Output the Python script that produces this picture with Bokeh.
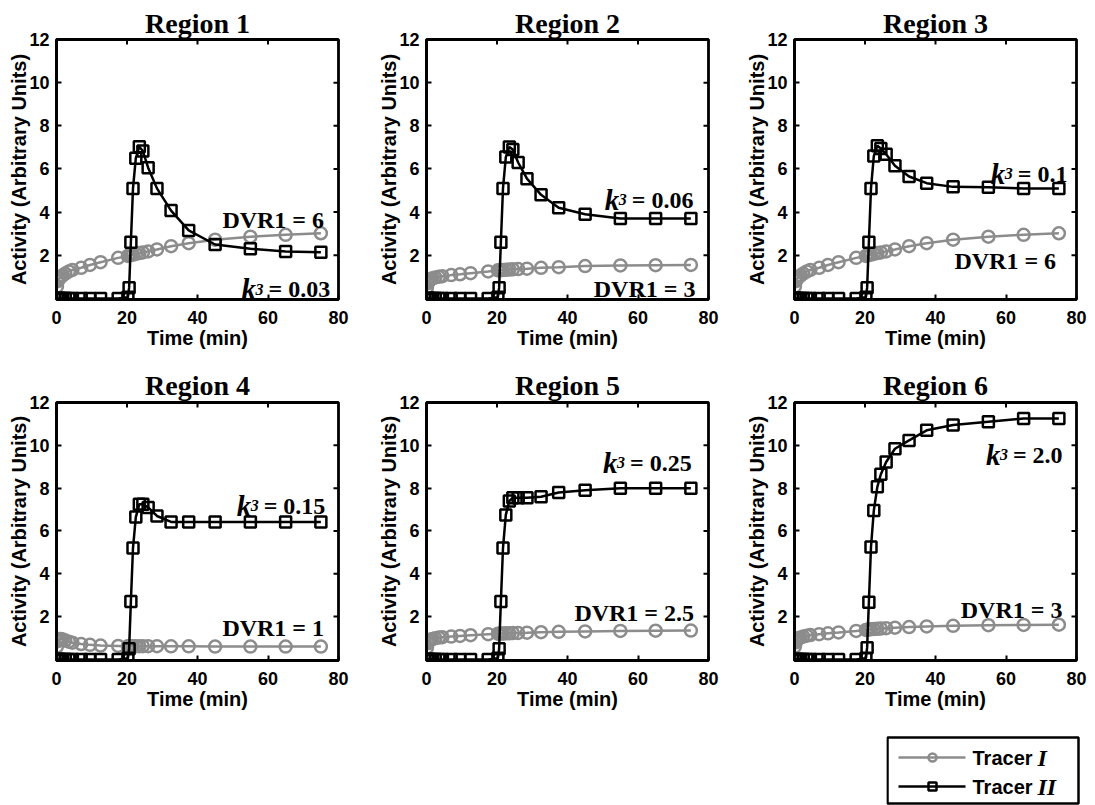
import math
from bokeh.plotting import figure
from bokeh.models import FixedTicker, Range1d, Spacer
from bokeh.layouts import row, column
from bokeh.embed import file_html
from bokeh.resources import INLINE
from bokeh.core.properties import value

# ---------------- data ----------------
time_min = [0.125, 0.375, 0.625, 0.875, 1.25, 1.75, 2.5, 3.5, 4.5, 7.0, 9.5, 12.5, 17.5,
            20.25, 20.6, 21.1, 21.7, 22.5, 23.5, 24.5, 26.0, 28.5, 32.5, 37.5, 45.0, 55.0, 65.0, 75.0]

region_names = ["Region 1", "Region 2", "Region 3", "Region 4", "Region 5", "Region 6"]

tracer1_r1 = [0.55, 0.8, 0.9, 0.95, 1.0, 1.07, 1.15, 1.25, 1.32, 1.42, 1.55, 1.68, 1.88,
              1.97, 1.99, 2.01, 2.03, 2.06, 2.1, 2.13, 2.18, 2.27, 2.42, 2.56, 2.72, 2.86, 2.95, 3.02]
tracer1_r2 = [0.5, 0.7, 0.8, 0.85, 0.9, 0.93, 0.97, 1.0, 1.03, 1.08, 1.12, 1.17, 1.25,
              1.3, 1.3, 1.31, 1.32, 1.33, 1.34, 1.35, 1.36, 1.38, 1.42, 1.45, 1.5, 1.53, 1.54, 1.55]
tracer1_r3 = [0.55, 0.8, 0.9, 0.95, 1.0, 1.07, 1.15, 1.25, 1.32, 1.42, 1.55, 1.68, 1.88,
              1.97, 1.99, 2.01, 2.03, 2.06, 2.1, 2.13, 2.18, 2.27, 2.42, 2.56, 2.72, 2.86, 2.95, 3.02]
tracer1_r4 = [0.6, 0.85, 0.93, 0.96, 0.95, 0.93, 0.88, 0.83, 0.78, 0.72, 0.68, 0.65, 0.63,
              0.62, 0.62, 0.62, 0.62, 0.62, 0.62, 0.62, 0.62, 0.62, 0.61, 0.61, 0.6, 0.6, 0.6, 0.6]
tracer1_r5 = [0.55, 0.75, 0.85, 0.9, 0.93, 0.96, 0.99, 1.02, 1.04, 1.07, 1.1, 1.13, 1.18,
              1.2, 1.2, 1.21, 1.21, 1.22, 1.22, 1.23, 1.24, 1.25, 1.27, 1.29, 1.31, 1.33, 1.34, 1.35]
tracer1_r6 = [0.6, 0.8, 0.9, 0.95, 1.0, 1.03, 1.07, 1.11, 1.14, 1.18, 1.22, 1.26, 1.33,
              1.38, 1.39, 1.4, 1.41, 1.42, 1.43, 1.44, 1.46, 1.48, 1.51, 1.54, 1.57, 1.6, 1.61, 1.62]

tracer2_r1 = [0, 0, 0, 0, 0, 0, 0, 0, 0, 0, 0, 0, 0,
              0.05, 0.5, 2.6, 5.1, 6.5, 7.03, 6.83, 6.06, 5.1, 4.07, 3.15, 2.5, 2.3, 2.18, 2.14]
tracer2_r2 = [0, 0, 0, 0, 0, 0, 0, 0, 0, 0, 0, 0, 0,
              0.05, 0.5, 2.6, 5.1, 6.55, 7.02, 6.9, 6.3, 5.55, 4.8, 4.2, 3.9, 3.7, 3.7, 3.7]
tracer2_r3 = [0, 0, 0, 0, 0, 0, 0, 0, 0, 0, 0, 0, 0,
              0.05, 0.5, 2.6, 5.1, 6.6, 7.08, 6.95, 6.68, 6.15, 5.65, 5.34, 5.17, 5.15, 5.1, 5.1]
tracer2_r4 = [0, 0, 0, 0, 0, 0, 0, 0, 0, 0, 0, 0, 0,
              0.05, 0.5, 2.7, 5.2, 6.65, 7.25, 7.25, 7.1, 6.7, 6.42, 6.42, 6.42, 6.42, 6.42, 6.42]
tracer2_r5 = [0, 0, 0, 0, 0, 0, 0, 0, 0, 0, 0, 0, 0,
              0.05, 0.5, 2.7, 5.2, 6.75, 7.4, 7.55, 7.55, 7.55, 7.6, 7.8, 7.9, 8.0, 8.0, 8.0]
tracer2_r6 = [0, 0, 0, 0, 0, 0, 0, 0, 0, 0, 0, 0, 0,
              0.05, 0.55, 2.67, 5.25, 6.95, 8.06, 8.65, 9.22, 9.84, 10.23, 10.7, 10.95, 11.1, 11.25, 11.25]

dvr_labels = ["DVR1 = 6", "DVR1 = 3", "DVR1 = 6", "DVR1 = 1", "DVR1 = 2.5", "DVR1 = 3"]
k3_labels = ["0.03", "0.06", "0.1", "0.15", "0.25", "2.0"]

x_ticks = [0, 20, 40, 60, 80]
y_ticks = [2, 4, 6, 8, 10, 12]
legend_labels = ["Tracer ", "Tracer "]
legend_numerals = ["I", "II"]

tracer1_all = [tracer1_r1, tracer1_r2, tracer1_r3, tracer1_r4, tracer1_r5, tracer1_r6]
tracer2_all = [tracer2_r1, tracer2_r2, tracer2_r3, tracer2_r4, tracer2_r5, tracer2_r6]

# ---------------- layout / styling ----------------
dvr_pos = [(75.9, 3.65), (76.3, 0.42), (74.2, 1.72), (75.9, 1.47), (75.9, 2.16), (76.0, 2.31)]
k3_pos = [(52.5, 0.42), (50.6, 4.57), (55.7, 5.77), (51.1, 7.18), (50.1, 9.18), (54.3, 9.57)]

GRAY = "#8c8c8c"
SANS = "Liberation Sans"
SERIF = "Liberation Serif"

cols = [dict(w=373, bl=56, br=35), dict(w=368, bl=53, br=33), dict(w=354, bl=53, br=19)]
rows_cfg = [dict(h=365, bt=39, bb=66, title_standoff=2),
            dict(h=360, bt=36, bb=65, title_standoff=4)]


def make_panel(i):
    r, c = divmod(i, 3)
    cc, rc = cols[c], rows_cfg[r]
    p = figure(width=cc["w"], height=rc["h"], x_range=Range1d(0, 80), y_range=Range1d(-0.05, 12),
               output_backend="svg", toolbar_location=None,
               min_border_left=cc["bl"], min_border_right=cc["br"],
               min_border_top=rc["bt"], min_border_bottom=rc["bb"],
               title=region_names[i])
    p.title.text_font = SERIF
    p.title.text_font_style = "bold"
    p.title.text_font_size = "28px"
    p.title.text_color = "black"
    p.title.align = "center"
    p.title.standoff = rc["title_standoff"]
    p.xgrid.visible = False
    p.ygrid.visible = False
    p.outline_line_color = "black"
    p.outline_line_width = 2.8
    p.outline_line_alpha = 1.0
    p.background_fill_color = "white"
    p.border_fill_color = "white"

    for ax in (p.xaxis[0], p.yaxis[0]):
        ax.axis_line_color = "black"
        ax.axis_line_width = 2.8
        ax.major_tick_in = 5
        ax.major_tick_out = 0
        ax.minor_tick_line_color = None
        ax.major_tick_line_width = 2
        ax.major_tick_line_color = "black"
        ax.major_label_text_font = SANS
        ax.major_label_text_font_style = "bold"
        ax.major_label_text_font_size = "18px"
        ax.major_label_text_color = "black"
        ax.axis_label_text_font = SANS
        ax.axis_label_text_font_style = "bold"
        ax.axis_label_text_font_size = "20px"
        ax.axis_label_text_color = "black"
    p.xaxis.ticker = FixedTicker(ticks=x_ticks)
    p.yaxis.ticker = FixedTicker(ticks=y_ticks)
    p.xaxis.major_label_standoff = 11
    p.xaxis.axis_label_standoff = 0
    p.yaxis.major_label_standoff = 7
    p.yaxis.axis_label_standoff = -4
    p.xaxis.axis_label = "Time (min)"
    p.yaxis.axis_label = "Activity (Arbitrary Units)"

    # inward ticks on the top and right frame edges (half of each dash is clipped away)
    p.scatter([80] * (len(y_ticks) - 1), y_ticks[:-1], marker="dash", size=10,
              line_color="black", line_width=2)
    p.scatter(x_ticks[1:-1], [12] * (len(x_ticks) - 2), marker="dash", angle=math.pi / 2, size=10,
              line_color="black", line_width=2)

    # data
    t1 = tracer1_all[i]
    t2 = tracer2_all[i]
    p.line(time_min, t1, line_color=GRAY, line_width=2.5)
    p.scatter(time_min, t1, marker="circle", size=12, line_color=GRAY, fill_color=None, line_width=2.5)
    p.line(time_min, t2, line_color="black", line_width=2.5)
    p.scatter(time_min, t2, marker="square", size=11, line_color="black", fill_color=None, line_width=2.5)

    # annotations
    dx, dy = dvr_pos[i]
    p.text(x=[dx], y=[dy], text=[dvr_labels[i]], text_font=value(SERIF), text_font_style="bold",
           text_font_size="24px", text_align="right", text_baseline="alphabetic", text_color="black")
    kx, ky = k3_pos[i]
    p.text(x=[kx], y=[ky], text=["k"], text_font=value(SERIF), text_font_style="bold italic",
           text_font_size="29px", text_align="left", text_baseline="alphabetic", text_color="black")
    p.text(x=[kx], y=[ky], text=["3"], x_offset=14, text_font=value(SERIF), text_font_style="bold italic",
           text_font_size="16px", text_align="left", text_baseline="alphabetic", text_color="black")
    p.text(x=[kx], y=[ky], text=["= " + k3_labels[i]], x_offset=27, text_font=value(SERIF),
           text_font_style="bold", text_font_size="24px", text_align="left", text_baseline="alphabetic",
           text_color="black")
    return p


panels = [make_panel(i) for i in range(6)]

# legend
leg = figure(width=209, height=80, x_range=Range1d(0, 209), y_range=Range1d(0, 80),
             x_axis_type=None, y_axis_type=None, output_backend="svg", toolbar_location=None,
             min_border=0)
leg.grid.visible = False
leg.outline_line_color = None
leg.quad(left=1, right=192, bottom=2, top=68, fill_color=None, line_color="black", line_width=2.5)
for yy, col, mk in [(48, GRAY, "circle"), (19, "black", "square")]:
    leg.line([12, 79], [yy, yy], line_color=col, line_width=2.5)
    leg.scatter([46], [yy], marker=mk, size=8, line_color=col, fill_color=None, line_width=2.5)
leg.text(x=[86, 86], y=[48, 19], text=legend_labels, text_font=value(SANS), text_font_style="bold",
         text_font_size="20px", text_align="left", text_baseline="middle", text_color="black")
leg.text(x=[151, 151], y=[48, 19], text=legend_numerals, text_font=value(SERIF),
         text_font_style="bold italic", text_font_size="24px", text_align="left", text_baseline="middle",
         text_color="black")

layout = column(row(*panels[:3]), row(*panels[3:]), row(Spacer(width=886, height=80), leg))

open("out.html", "w").write(file_html(layout, INLINE))
